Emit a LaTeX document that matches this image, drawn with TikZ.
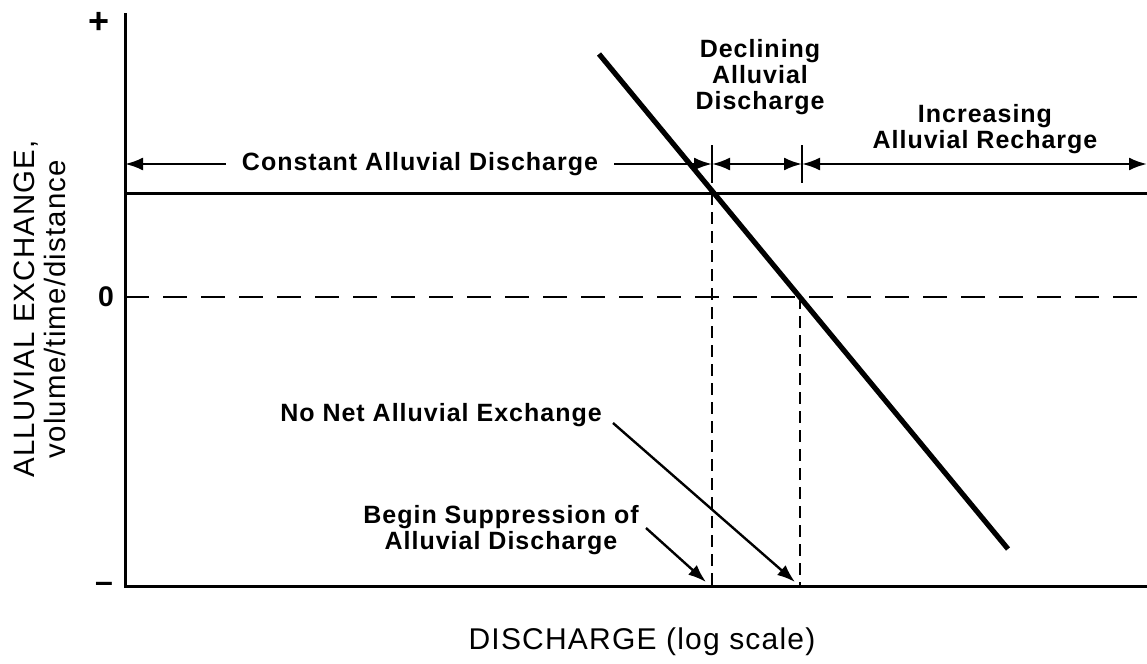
\documentclass[tikz,border=0pt]{standalone}
\usepackage{fontspec}
\setmainfont{Liberation Sans}[LetterSpace=4.0]
\usetikzlibrary{arrows.meta,positioning}

\tikzset{
  lbl/.style={font=\fontsize{12.5}{13.2}\selectfont\bfseries, align=center, inner sep=0pt},
  axlbl/.style={font=\fontsize{14.7}{15.5}\selectfont, align=center, inner sep=0pt},
  arr/.style={line width=1.2pt, -{Latex[length=9pt,width=6.5pt]}},
  darr/.style={line width=1.2pt, {Latex[length=9pt,width=6.5pt]}-{Latex[length=9pt,width=6.5pt]}},
  axisline/.style={line width=1.5pt},
  vdash/.style={line width=1.3pt, dash pattern=on 6pt off 3.5pt},
}

\begin{document}
\begin{tikzpicture}[x=0.5pt, y=-0.5pt]

% Frame (pixel units of the reference)
\useasboundingbox (0,0) rectangle (1147,664);

% Key positions
\def\xAxis{125}
\def\yTop{13}
\def\yBot{586}
\def\yConst{193}
\def\yZero{297}
\def\yArr{164}
\def\xBegin{712}
\def\xNoNet{800}

% Axes and reference levels
\draw[axisline] (\xAxis,\yTop) -- (\xAxis,\yBot) -- (1147,\yBot);
\draw[axisline] (\xAxis,\yConst) -- (1147,\yConst);
\draw[line width=1.4pt, dash pattern=on 12pt off 7pt] (\xAxis,\yZero) -- (1147,\yZero);

% Exchange curve
\coordinate (ctop) at (599,54);
\coordinate (cbot) at (1008,549);
\draw[line width=2.6pt] (ctop) -- (cbot);

% Vertical markers
\coordinate (b1) at (\xBegin,\yConst);
\coordinate (b2) at (\xBegin,\yBot);
\coordinate (n1) at (\xNoNet,\yZero);
\coordinate (n2) at (\xNoNet,\yBot);
\draw[vdash] (b1) -- (b2);
\draw[vdash] (n1) -- (n2);

% Range ticks
\draw[line width=1.3pt] (\xBegin,145) -- (\xBegin,183);
\draw[line width=1.3pt] (802,145) -- (802,183);

% Ranges along the top
\coordinate (yax) at (\xAxis,\yArr);
\coordinate (t1) at (\xBegin,\yArr);
\coordinate (t2) at (802,\yArr);
\coordinate (rend) at (1147,\yArr);
\node[lbl, inner xsep=8pt] (const) at (420,\yArr) {Constant Alluvial Discharge};
\draw[arr] (const.west) -- (yax);
\draw[arr] (const.east) -- (t1);
\draw[darr] (t1) -- (t2);
\draw[darr] (t2) -- (rend);

\node[lbl] (decl) at (760,77) {Declining\\Alluvial\\Discharge};
\node[lbl] (incr) at (985,129) {Increasing\\Alluvial Recharge};

% Point labels
\node[lbl] (nonet) at (441,415) {No Net Alluvial Exchange};
\node[lbl] (begin) at (501,530) {Begin Suppression of\\Alluvial Discharge};
\coordinate (nonetA) at (613,423);
\coordinate (nonetB) at (795,582);
\coordinate (beginA) at (646,528);
\coordinate (beginB) at (706,582);
\draw[arr] (nonetA) -- (nonetB);
\draw[arr] (beginA) -- (beginB);

% Axis labels
\node[axlbl, font=\fontsize{18}{18}\selectfont\bfseries] (plus) at (99,23) {+};
\node[axlbl, font=\fontsize{14.2}{15}\selectfont\bfseries] (zero) at (106,\yZero) {0};
\node[axlbl, font=\fontsize{16}{16}\selectfont\bfseries] (minus) at (104,587) {--};
\node[axlbl, rotate=90] (ylab) at (40,309) {ALLUVIAL EXCHANGE,\\volume/time/distance};
\node[axlbl, font=\fontsize{15}{16}\selectfont] (xlab) at (642,642) {DISCHARGE (log scale)};

\end{tikzpicture}
\end{document}
